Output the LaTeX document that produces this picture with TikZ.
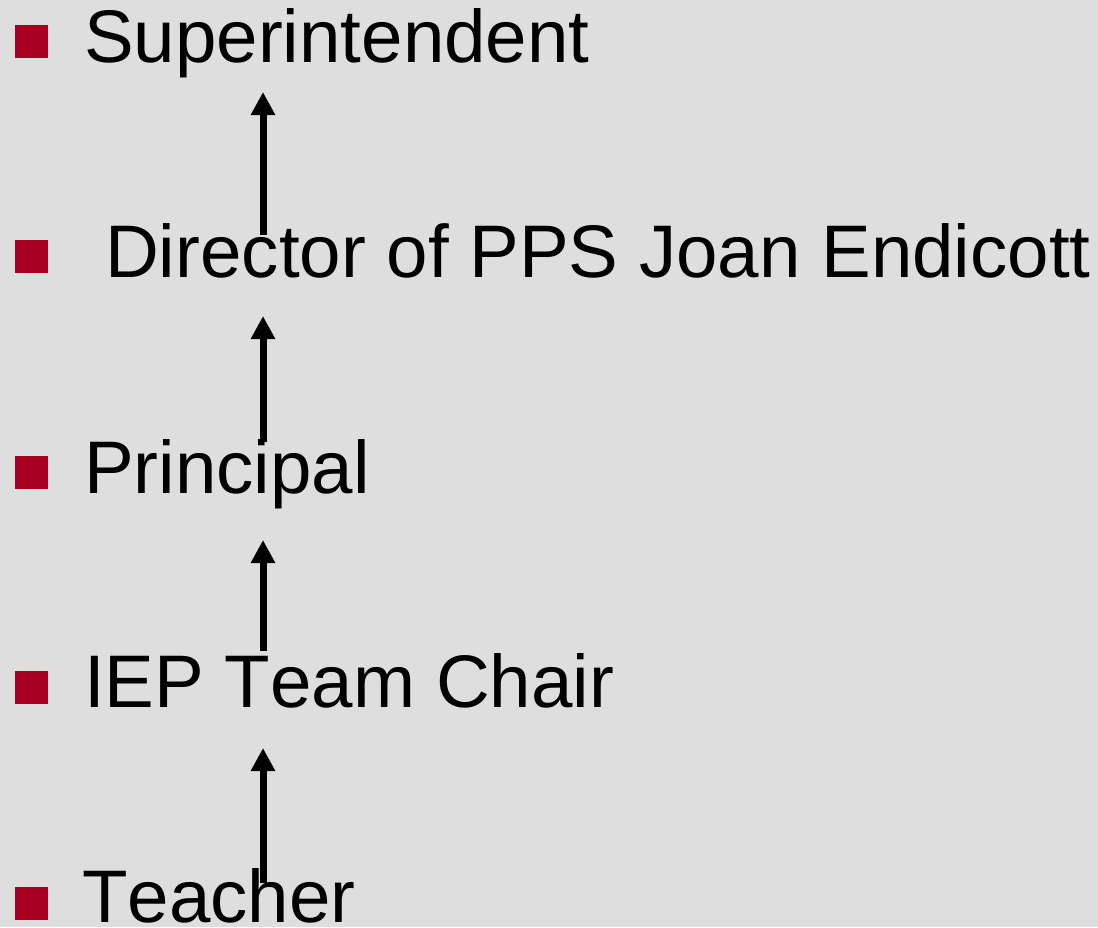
\documentclass[tikz,border=0pt]{standalone}
\usepackage{fontspec}
\setmainfont[Kerning=Off]{Liberation Sans}
\usetikzlibrary{arrows.meta}
\definecolor{bg}{HTML}{DEDEDE}
\definecolor{bulletred}{HTML}{A50021}
\begin{document}
\begin{tikzpicture}[x=1pt,y=-1pt,
  item/.style={anchor=base west,inner sep=0pt,font=\fontsize{74.5}{80}\selectfont},
  bul/.style={fill=bulletred,minimum size=33pt,inner sep=0pt,anchor=north west},
  up/.style={line width=7pt,-{Triangle[width=23pt,length=23pt]}}]
\fill[bg] (0,0) rectangle (1098,927);
\useasboundingbox (0,0) rectangle (1098,927);
% bullets
\node[bul] (b1) at (15,25) {};
\node[bul] (b2) at (15,240) {};
\node[bul] (b3) at (15,456) {};
\node[bul] (b4) at (15,671) {};
\node[bul] (b5) at (15,887) {};
% texts
\node[item] (t1) at (84,62) {Superintendent};
\node[item] (t2) at (105,277) {Director of PPS Joan Endicott};
\node[item] (t3) at (84,493) {Principal};
\node[item] (t4) at (84,707) {IEP Team Chair};
\node[item] (t5) at (82,922) {Teacher};
% arrow end points
\coordinate (a1s) at (263,235); \coordinate (a1e) at (263,92);
\coordinate (a2s) at (263,442); \coordinate (a2e) at (263,316);
\coordinate (a3s) at (263,651); \coordinate (a3e) at (263,540);
\coordinate (a4s) at (263,883); \coordinate (a4e) at (263,748);
\draw[up] (a1s) -- (a1e);
\draw[up] (a2s) -- (a2e);
\draw[up] (a3s) -- (a3e);
\draw[up] (a4s) -- (a4e);
\end{tikzpicture}
\end{document}
